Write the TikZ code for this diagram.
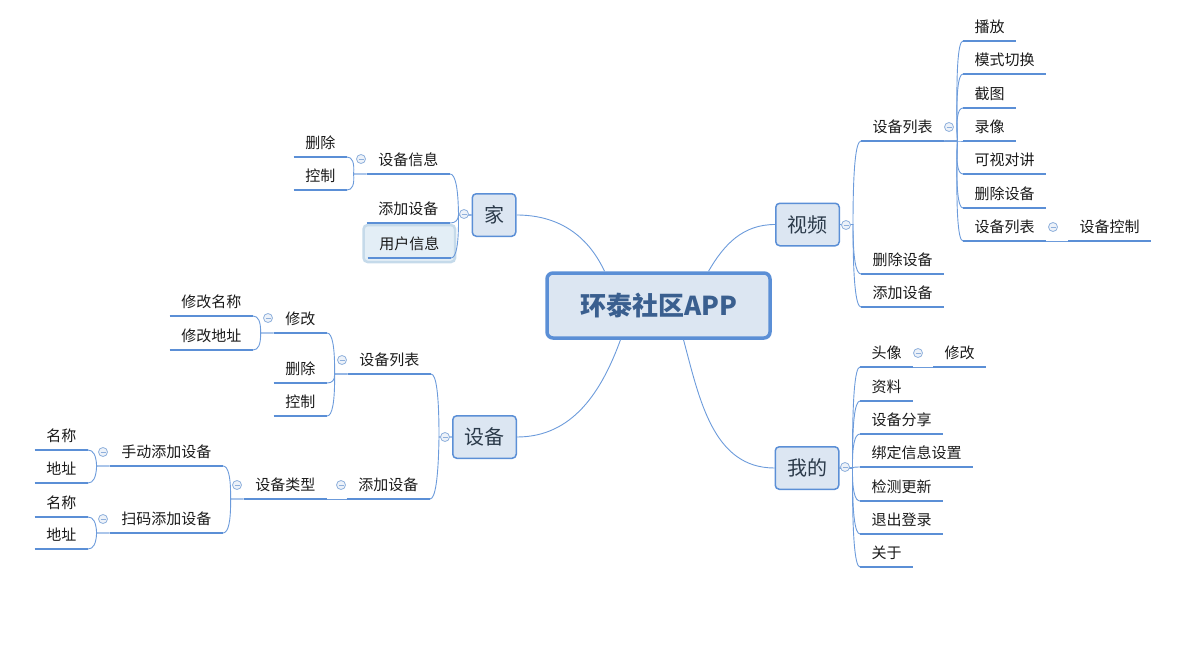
\documentclass[tikz,border=0pt]{standalone}
\usepackage{fontspec}
\setmainfont{Noto Sans CJK SC}
\usetikzlibrary{backgrounds,calc}
\definecolor{lineblue}{HTML}{5B8FD6}
\definecolor{spinec}{HTML}{6C9BDB}
\definecolor{boxfill}{HTML}{DCE6F2}
\definecolor{ctext}{HTML}{3A5F8F}
\definecolor{collc}{HTML}{8FB0DC}
\definecolor{collf}{HTML}{EDF2F9}
\definecolor{txt}{HTML}{1A1A1A}
\definecolor{toptxt}{HTML}{2B3A4A}
\definecolor{selfill}{HTML}{E3EEF6}
\definecolor{seldraw}{HTML}{C5DAEA}
\tikzset{
  base/.style={font=\fontsize{15}{18}\selectfont, text=txt, inner xsep=11.5pt, inner ysep=5.3pt, text height=11pt, text depth=3pt},
  tR/.style={base, anchor=south west},
  tL/.style={base, anchor=south east},
  uline/.style={draw=lineblue, line width=2.5pt},
  spine/.style={draw=spinec, line width=0.9pt},
  rc/.style={spine, to path={-- ([xshift=13pt]\tikztostart) coordinate (rcJ)
     .. controls ($(rcJ)!0.667!([xshift=-8pt]\tikztotarget)$) and ([xshift=-5.33pt]\tikztotarget) .. (\tikztotarget)}},
  lc/.style={spine, to path={-- ([xshift=-13pt]\tikztostart) coordinate (lcJ)
     .. controls ($(lcJ)!0.667!([xshift=8pt]\tikztotarget)$) and ([xshift=5.33pt]\tikztotarget) .. (\tikztotarget)}},
  topicbox/.style={draw=lineblue, fill=boxfill, line width=1.5pt, rounded corners=4pt, minimum height=42.5pt, inner xsep=11.75pt, inner ysep=0pt, font=\fontsize{20}{24}\selectfont, text=toptxt},
  centerbox/.style={draw=lineblue, fill=boxfill, line width=3.5pt, rounded corners=6pt, minimum width=223pt, minimum height=65pt, font=\fontsize{26}{30}\selectfont\bfseries, text=ctext},
  coll/.style={circle, draw=collc, fill=collf, line width=0.8pt, minimum size=9pt, inner sep=0pt,
    path picture={\draw[collc, line width=0.8pt] ([xshift=-2.5pt]path picture bounding box.center) -- ([xshift=2.5pt]path picture bounding box.center);}},
  selbox/.style={fill=selfill, draw=seldraw, line width=2.5pt, rounded corners=4pt}
}
\begin{document}
\begin{tikzpicture}[x=1pt,y=-1pt]
\useasboundingbox (0,0) rectangle (1190,647);
% center and main topics
\node[centerbox] (c) at (658.5,305.5) {环泰社区APP};
\node[topicbox] (jia) at (494,215) {家};
\node[topicbox] (vid) at (807.5,224.5) {视频};
\node[topicbox] (she) at (484.5,437) {设备};
\node[topicbox] (wo) at (807,468) {我的};

% 视频 branch
\node[tR] (v1) at (861,141) {设备列表};
\node[tR] (v2) at (861,274) {删除设备};
\node[tR] (v3) at (861,307) {添加设备};
\node[tR] (v11) at (963,41) {播放};
\node[tR] (v12) at (963,74) {模式切换};
\node[tR] (v13) at (963,108) {截图};
\node[tR] (v14) at (963,141) {录像};
\node[tR] (v15) at (963,174) {可视对讲};
\node[tR] (v16) at (963,208) {删除设备};
\node[tR] (v17) at (963,241) {设备列表};
\node[tR] (v171) at (1068,241) {设备控制};

% 我的 branch
\node[tR] (w1) at (860,367) {头像};
\node[tR] (w2) at (860,401) {资料};
\node[tR] (w3) at (860,434) {设备分享};
\node[tR] (w4) at (860,467) {绑定信息设置};
\node[tR] (w5) at (860,501) {检测更新};
\node[tR] (w6) at (860,534) {退出登录};
\node[tR] (w7) at (860,567) {关于};
\node[tR] (w11) at (933,367) {修改};

% 家 branch
\node[tL] (j1) at (450,174) {设备信息};
\node[tL] (j2) at (450,223) {添加设备};
\node[tL] (j3) at (451,258) {用户信息};
\node[tL] (j11) at (347,157) {删除};
\node[tL] (j12) at (347,190) {控制};

% 设备 branch
\node[tL] (s1) at (431,374) {设备列表};
\node[tL] (s2) at (430,499) {添加设备};
\node[tL] (s11) at (327,333) {修改};
\node[tL] (s12) at (327,383) {删除};
\node[tL] (s13) at (327,416) {控制};
\node[tL] (s111) at (253,316) {修改名称};
\node[tL] (s112) at (253,350) {修改地址};
\node[tL] (s21) at (327,499) {设备类型};
\node[tL] (s211) at (223,466) {手动添加设备};
\node[tL] (s212) at (223,533) {扫码添加设备};
\node[tL] (s2111) at (88,450) {名称};
\node[tL] (s2112) at (88,483) {地址};
\node[tL] (s2121) at (88,517) {名称};
\node[tL] (s2122) at (88,549) {地址};

% selection box behind 用户信息
\begin{scope}[on background layer]
\draw[selbox] ([xshift=-4pt,yshift=-4pt]j3.south west) rectangle ([xshift=4pt,yshift=8pt]j3.north east);
\end{scope}

% center connectors
\draw[spine] ([xshift=-54pt]c.north) to[out=115,in=0] (jia.east);
\draw[spine] ([xshift=50pt]c.north) to[out=60,in=180] (vid.west);
\draw[spine] ([xshift=-38pt]c.south) to[out=-110,in=0] (she.east);
\draw[spine] ([xshift=25pt]c.south) to[out=-75,in=180] (wo.west);

% right connectors
\foreach \t in {v1,v2,v3} \draw[rc] (vid.east) to (\t.south west);
\foreach \t in {v11,v12,v13,v14,v15,v16,v17} \draw[rc] (v1.south east) to (\t.south west);
\draw[spine] (v17.south east) -- (v171.south west);
\foreach \t in {w1,w2,w3,w4,w5,w6,w7} \draw[rc] (wo.east) to (\t.south west);
\draw[spine] (w1.south east) -- (w11.south west);

% left connectors
\foreach \t in {j1,j2,j3} \draw[lc] (jia.west) to (\t.south east);
\foreach \t in {j11,j12} \draw[lc] (j1.south west) to (\t.south east);
\foreach \t in {s1,s2} \draw[lc] (she.west) to (\t.south east);
\foreach \t in {s11,s12,s13} \draw[lc] (s1.south west) to (\t.south east);
\foreach \t in {s111,s112} \draw[lc] (s11.south west) to (\t.south east);
\draw[spine] (s2.south west) -- (s21.south east);
\foreach \t in {s211,s212} \draw[lc] (s21.south west) to (\t.south east);
\foreach \t in {s2111,s2112} \draw[lc] (s211.south west) to (\t.south east);
\foreach \t in {s2121,s2122} \draw[lc] (s212.south west) to (\t.south east);

% underlines
\foreach \n in {v1,v2,v3,v11,v12,v13,v14,v15,v16,v17,v171,w1,w2,w3,w4,w5,w6,w7,w11,j1,j2,j3,j11,j12,s1,s2,s11,s12,s13,s111,s112,s21,s211,s212,s2111,s2112,s2121,s2122}
  \draw[uline] (\n.south west) -- (\n.south east);

% collapse markers
\node[coll] (k1) at (464,214) {};
\node[coll] (k2) at (361,159) {};
\node[coll] (k3) at (846,225) {};
\node[coll] (k4) at (949,127) {};
\node[coll] (k5) at (1053,227) {};
\node[coll] (k6) at (445,437) {};
\node[coll] (k7) at (342,360) {};
\node[coll] (k8) at (268,318) {};
\node[coll] (k9) at (341,485) {};
\node[coll] (k10) at (237,485) {};
\node[coll] (k11) at (103,452) {};
\node[coll] (k12) at (103,519) {};
\node[coll] (k13) at (845,467) {};
\node[coll] (k14) at (918,353) {};
\end{tikzpicture}
\end{document}
